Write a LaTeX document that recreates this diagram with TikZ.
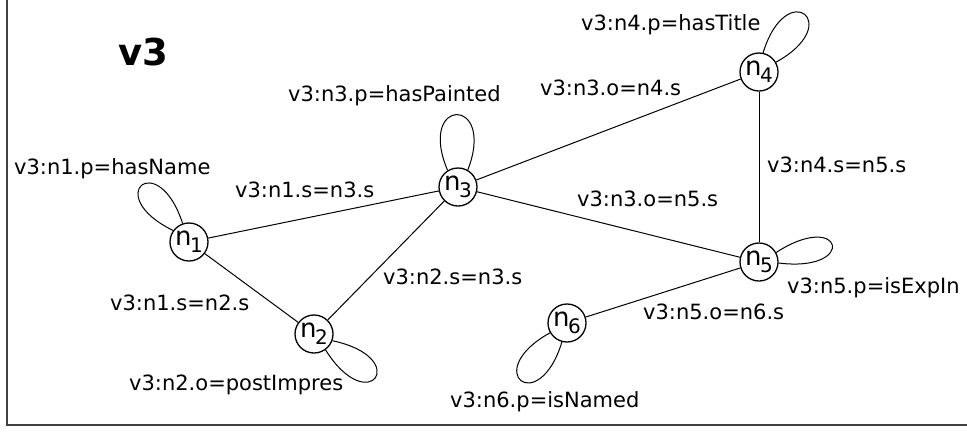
\documentclass[tikz,border=0pt]{standalone}
\usepackage{fontspec}
\setmainfont{DejaVu Sans}
\begin{document}
\begin{tikzpicture}[x=1pt,y=-1pt,
  vtx/.style={circle,draw,line width=1.3pt,fill=white,minimum size=38pt,inner sep=0pt},
  lbl/.style={anchor=base west,inner sep=0pt,font=\fontsize{21}{25}\selectfont},
  edge/.style={line width=1pt},
  frame/.style={line width=1.6pt,black!75}]
\useasboundingbox (0,0) rectangle (967,432);
\newcommand\vlab[1]{{\fontsize{26}{26}\selectfont n\kern-1.5pt\raisebox{-7pt}{\fontsize{20}{20}\selectfont #1}}}
\draw[frame] (7,0) -- (7,425) -- (967,425);
% nodes
\node[vtx] (n1) at (189,242) {\vlab{1}};
\node[vtx] (n2) at (314,334) {\vlab{2}};
\node[vtx] (n3) at (458,187) {\vlab{3}};
\node[vtx] (n4) at (759,72) {\vlab{4}};
\node[vtx] (n5) at (759,262) {\vlab{5}};
\node[vtx] (n6) at (567,323) {\vlab{6}};
% edges
\draw[edge] (n1) -- (n3);
\draw[edge] (n1) -- (n2);
\draw[edge] (n2) -- (n3);
\draw[edge] (n3) -- (n4);
\draw[edge] (n3) -- (n5);
\draw[edge] (n4) -- (n5);
\draw[edge] (n5) -- (n6);
% self loops
\draw[edge] (n1.109) .. controls +(-108:80) and +(-154:80) .. (n1.144);
\draw[edge] (n3.122) .. controls +(-113:80) and +(-69:80) .. (n3.60);
\draw[edge] (n4.78) .. controls +(-73:80) and +(-29:80) .. (n4.30);
\draw[edge] (n5.29) .. controls +(-33:80) and +(7:80) .. (n5.-3);
\draw[edge] (n6.210) .. controls +(-209:80) and +(-253:80) .. (n6.255);
\draw[edge] (n2.-20) .. controls +(12:82) and +(58:82) .. (n2.-54);
% labels
\node[anchor=base west,inner sep=0pt,font=\fontsize{37}{40}\selectfont\bfseries] (title) at (118,65) {v3};
\node[lbl] (l1) at (581,30) {v3:n4.p=hasTitle};
\node[lbl] (l2) at (288,101) {v3:n3.p=hasPainted};
\node[lbl] (l3) at (540,95) {v3:n3.o=n4.s};
\node[lbl] (l4) at (14,174) {v3:n1.p=hasName};
\node[lbl] (l5) at (235,197) {v3:n1.s=n3.s};
\node[lbl] (l6) at (110,310) {v3:n1.s=n2.s};
\node[lbl] (l7) at (383,284) {v3:n2.s=n3.s};
\node[lbl] (l8) at (577,206) {v3:n3.o=n5.s};
\node[lbl] (l9) at (767,172) {v3:n4.s=n5.s};
\node[lbl] (l10) at (787,293) {v3:n5.p=isExpIn};
\node[lbl] (l11) at (643,319) {v3:n5.o=n6.s};
\node[lbl] (l12) at (450,407) {v3:n6.p=isNamed};
\node[lbl] (l13) at (129,390) {v3:n2.o=postImpres};
\end{tikzpicture}
\end{document}
